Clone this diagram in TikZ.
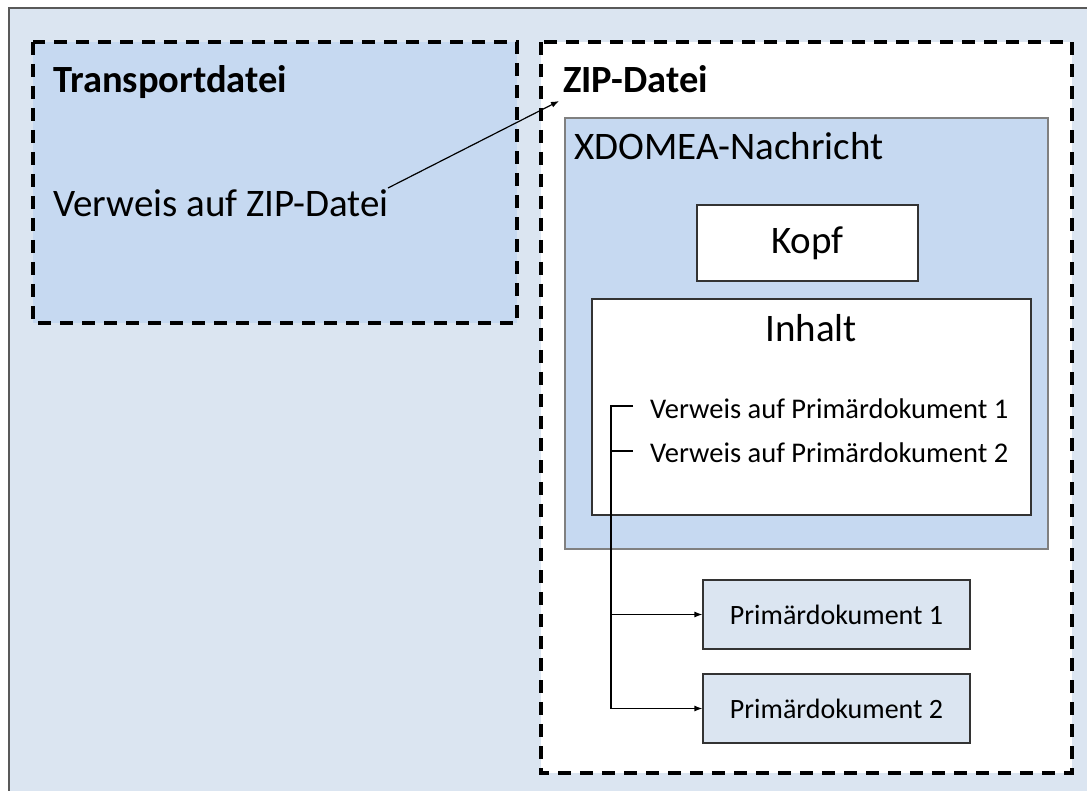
\documentclass[tikz,border=0pt]{standalone}
\usepackage{fontspec}
\setmainfont{Carlito}
\usetikzlibrary{arrows.meta}
\definecolor{bgblue}{HTML}{DBE5F1}
\definecolor{midblue}{HTML}{C6D9F1}
\definecolor{frame}{HTML}{595959}
\tikzset{
  x=1pt, y=-1pt,
  dashbox/.style={draw=black, line width=3.5pt, dash pattern=on 13pt off 9pt},
  plainbox/.style={draw=#1, line width=1.2pt, inner sep=0pt},
  lbl/.style={anchor=base west, inner sep=0pt},
  big/.style={font=\fontsize{39}{42}\selectfont},
  bigb/.style={font=\fontsize{38.5}{42}\selectfont\bfseries},
  mid/.style={font=\fontsize{28.5}{31}\selectfont},
  sml/.style={font=\fontsize{28}{30}\selectfont},
  conn/.style={line width=1.2pt, black},
  tip/.style={-{Latex[length=8pt,width=6pt]}}
}
\begin{document}
\begin{tikzpicture}
\useasboundingbox (0,0) rectangle (1087,791);
% background frame
\fill[bgblue] (9,8) rectangle (1087,791);
\draw[frame, line width=1.5pt] (9,791) -- (9,8) -- (1087,8);
% Transportdatei box
\fill[midblue] (33,42) rectangle (517,323);
\draw[dashbox] (33,42) rectangle (517,323);
% ZIP box
\fill[white] (541,42) rectangle (1072,773);
\draw[dashbox] (541,42) rectangle (1072,773);
% XDOMEA
\draw[plainbox=gray, fill=midblue] (565,118) rectangle (1048,549);
\node[lbl, big] (xdom) at (574,160) {XDOMEA-Nachricht};
% Kopf
\node[plainbox=black!80, fill=white, minimum width=221pt, minimum height=76pt, big] (kopf) at (807.5,243) {Kopf};
% Inhalt
\draw[plainbox=black!80, fill=white] (592,299) rectangle (1031,515);
\node[big] (inhalt) at (811,328) {Inhalt};
\node[lbl, mid] (vp1) at (650,418) {Verweis auf Primärdokument 1};
\node[lbl, mid] (vp2) at (650,462) {Verweis auf Primärdokument 2};
% Primärdokumente
\node[plainbox=black!80, fill=bgblue, minimum width=267pt, minimum height=69pt, sml] (pd1) at (836.5,614.5) {Primärdokument 1};
\node[plainbox=black!80, fill=bgblue, minimum width=267pt, minimum height=69pt, sml] (pd2) at (836.5,708.5) {Primärdokument 2};
% labels
\node[lbl, bigb] (trans) at (53,93) {Transportdatei};
\node[lbl, bigb] (zip) at (563,93) {ZIP-Datei};
\node[lbl, big] (vzip) at (53,217) {Verweis auf ZIP-Datei};
% connectors
\coordinate (b1) at (611,406);
\coordinate (b2) at (611,451);
\coordinate (t1) at (633,406);
\coordinate (t2) at (633,451);
\draw[conn] (t1) -- (b1) -- (b1 |- pd2.west);
\draw[conn] (b2) -- (t2);
\draw[conn, tip] (b1 |- pd1.west) -- (pd1.west);
\draw[conn, tip] (b1 |- pd2.west) -- (pd2.west);
\coordinate (vs) at (388,188);
\draw[conn, tip] (vs) -- ([xshift=-4pt,yshift=-8pt]zip.base west);
\end{tikzpicture}
\end{document}
